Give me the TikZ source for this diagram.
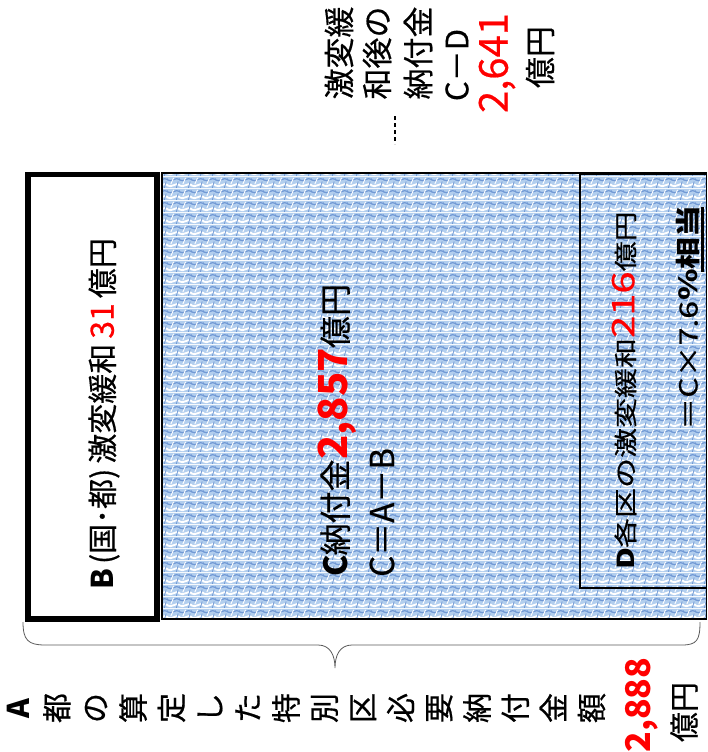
\documentclass[tikz,border=0pt]{standalone}
\usepackage{fontspec}
\setmainfont[UprightFeatures={FakeBold=0.5}]{Noto Sans CJK JP}
\usetikzlibrary{patterns.meta}
\definecolor{texbase}{RGB}{178,206,238}
\definecolor{texdark}{RGB}{112,152,212}
\definecolor{bracegray}{RGB}{90,90,90}
\newcommand{\fs}[1]{\fontsize{#1}{#1}\selectfont}
\tikzdeclarepattern{
  name=waves,
  type=colored,
  bottom left={(0pt,0pt)},
  top right={(12pt,12pt)},
  tile size={(12pt,12pt)},
  code={
    \fill[texbase] (0pt,0pt) rectangle (12pt,12pt);
    \draw[white, line width=2pt] (-1pt,3pt) .. controls (4pt,-1pt) and (8pt,7pt) .. (13pt,3pt);
    \draw[texdark, line width=1.3pt] (-1pt,9pt) .. controls (4pt,5pt) and (8pt,13pt) .. (13pt,9pt);
    \draw[white, line width=1pt] (3pt,4pt) .. controls (3pt,7pt) and (6pt,8pt) .. (6pt,11pt);
    \draw[texdark, line width=0.8pt] (9pt,0pt) .. controls (9pt,3pt) and (11pt,4pt) .. (11pt,7pt);
  }
}
\begin{document}
\begin{tikzpicture}[x=1pt,y=-1pt,
  rtext/.style={rotate=90, inner sep=0pt, text=black},
  thinframe/.style={draw=black, line width=1.6pt},
  thickframe/.style={draw=black, line width=5.5pt, fill=white},
  bracestyle/.style={draw=bracegray, line width=0.8pt},
  leader/.style={draw=black, line width=1.3pt, dash pattern=on 4pt off 3pt}
  ]
\useasboundingbox (0,0) rectangle (708,752);
% textured area C
\path[pattern=waves] (162,173) rectangle (706.5,619);
\draw[thinframe] (162,173) rectangle (706.5,619);
% box D
\draw[draw=black, line width=1.3pt] (580,174) rectangle (706.5,588);
% box B
\draw[thickframe] (28,174.5) rectangle (157,619);

% B text
\node[rtext, font=\fs{30}] (Btext) at (104,414) {\textbf{B}\hspace{5pt}(国･都)\hspace{5pt}激変緩和\hspace{5pt}{\color{red}\fs{32}31}\hspace{5pt}億円};

% C text
\node[rtext, anchor=west, font=\fs{32}] (Cline1) at (337,577) {\textbf{C}納付金{\color{red}\bfseries\fs{40}2,857}億円};
\node[rtext, anchor=west, font=\fs{33}] (Cline2) at (382,577) {C＝A－B};

% D text
\node[rtext, anchor=west, font=\fs{30}] (Dline1) at (624,570) {\scalebox{1}[0.78]{\textbf{D}各区の激変緩和{\color{red}\fs{40}216}億円}};
\node[rtext, anchor=west, font=\fs{32}] (Dline2) at (688,430) {\scalebox{1}[0.78]{＝C×7.6\textbf{\%相当}}};
\coordinate (ulA) at (702,207);
\coordinate (ulB) at (702,272);
\draw[line width=3pt] (ulA) -- (ulB);

% top-right note
\node[rtext, font=\fs{31}] (n1) at (339,53) {激変緩};
\node[rtext, font=\fs{31}] (n2) at (377,53) {和後の};
\node[rtext, font=\fs{31}] (n3) at (418,53) {納付金};
\node[rtext, font=\fs{31}] (n4) at (457,65) {C－D};
\node[rtext, font=\fs{40}, text=red] (n5) at (497,63) {2,641};
\node[rtext, font=\fs{31}] (n6) at (540,57) {億円};
\coordinate (dl1) at (395,116);
\coordinate (dl2) at (395,144);
\draw[leader] (dl1) -- (dl2);

% brace
\coordinate (brL) at (23,622);
\coordinate (brR) at (700,622);
\coordinate (brT) at (335,668);
\draw[bracestyle] (brL) .. controls (23,640) and (28,645) .. (45,645) -- (318,645)
  .. controls (330,645) and (335,655) .. (brT)
  .. controls (335,655) and (340,645) .. (352,645) -- (682,645)
  .. controls (697,645) and (700,640) .. (brR);

% A text
\node[rotate=90, inner sep=0pt, align=center, font=\fontsize{30}{38.2}\selectfont] (Atext) at (306.5,708)
  {\textbf{A}\\都\\の\\算\\定\\し\\た\\特\\別\\区\\必\\要\\納\\付\\金\\額};
\node[rtext, font=\fs{34}\bfseries, text=red] (Anum) at (642,705) {2,888};
\node[rtext, font=\fs{30}] (Aunit) at (684,712) {億円};
\end{tikzpicture}
\end{document}
